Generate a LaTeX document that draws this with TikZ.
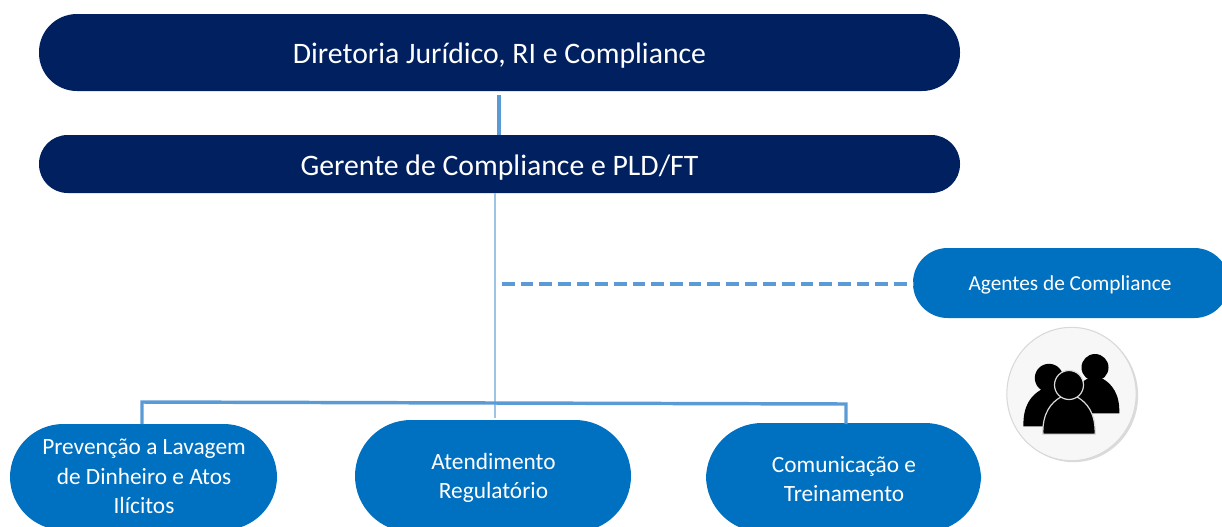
\documentclass[tikz,border=0pt]{standalone}
\usepackage{fontspec}
\setmainfont{Carlito}
\usetikzlibrary{calc,shapes.geometric}
\definecolor{navybar}{RGB}{0,32,96}
\definecolor{bluebox}{RGB}{0,112,192}
\definecolor{linkblue}{RGB}{91,155,213}
\definecolor{stemblue}{RGB}{157,195,230}
\tikzset{
  x=0.75pt,y=-0.75pt,
  pill/.style={text=white,align=center,inner sep=0pt},
  navyshape/.style={fill=navybar},
  blueshape/.style={fill=bluebox},
  link/.style={draw=linkblue,line width=2.6pt},
  stem/.style={draw=stemblue,line width=1.3pt},
  dashlink/.style={draw=linkblue,line width=2.8pt,dash pattern=on 9.5pt off 4.5pt},
  personshape/.style={fill=black},
  frontperson/.style={fill=black,draw=black!15,line width=0.9pt},
  pics/person/.style n args={2}{code={
    \path[#2] (-#1*1.8,#1*3.4) -- (#1*1.8,#1*3.4)
      .. controls (#1*1.85,#1*1.9) and (#1*1.2,#1*1.2) .. (#1*0.6,#1*0.85)
      -- (-#1*0.6,#1*0.85)
      .. controls (-#1*1.2,#1*1.2) and (-#1*1.85,#1*1.9) .. (-#1*1.8,#1*3.4) -- cycle;
    \path[#2] (0,0) circle[radius=#1*1pt*0.75];
  }}
}
\begin{document}
\begin{tikzpicture}
\useasboundingbox (0,0) rectangle (1222,526);
\clip (0,0) rectangle (1222,526);
% boxes
\path[navyshape,rounded corners=28.5pt] (39,14) rectangle (960,91);
\path[navyshape,rounded corners=21.5pt] (39,135) rectangle (960,193);
\path[blueshape,rounded corners=26pt] (913,248) rectangle (1229,318);
\path[blueshape,rounded corners=40pt] (10,424) rectangle (277,530);
\path[blueshape,rounded corners=42pt] (355,420) rectangle (631,532);
\path[blueshape,rounded corners=42pt] (706,423) rectangle (981,532);
% labels
\node[pill,font=\fontsize{22.3}{26}\selectfont] (dir) at (499.5,56) {Diretoria Jurídico, RI e Compliance};
\node[pill,font=\fontsize{22.3}{26}\selectfont] (ger) at (499.5,167.5) {Gerente de Compliance e PLD/FT};
\node[pill,font=\fontsize{16}{19}\selectfont] (age) at (1070,285) {Agentes de Compliance};
\node[pill,font=\fontsize{17.5}{22}\selectfont] (pre) at (144,476.5) {Prevenção a Lavagem\\de Dinheiro e Atos\\Ilícitos};
\node[pill,font=\fontsize{17.5}{22}\selectfont] (ate) at (493.5,478) {Atendimento\\Regulatório};
\node[pill,font=\fontsize{17.5}{22}\selectfont] (com) at (844,479) {Comunicação e\\Treinamento};
% anchors on box edges
\coordinate (dirb) at (499,95);
\coordinate (gert) at (499,135);
\coordinate (gerb) at (495,193);
\coordinate (stemend) at (495,418);
\coordinate (dashs) at (502,284);
\coordinate (agel) at (913,284);
\coordinate (prt) at (142,424);
\coordinate (prc) at (142,402);
\coordinate (cmc) at (846,404);
\coordinate (cmt) at (846,424);
% connectors
\draw[link] (dirb) -- (gert);
\draw[stem] (gerb) -- (stemend);
\draw[dashlink] (dashs) -- (agel);
\draw[link,line join=miter] (prt) -- (prc) -- (cmc) -- (cmt);
% icon
\node[ellipse,fill=black!14,minimum width=97pt,minimum height=100pt,inner sep=0pt] (iconshadow) at (1073.5,395.5) {};
\node[ellipse,draw=black!15,fill=black!3,line width=0.8pt,minimum width=97pt,minimum height=100pt,inner sep=0pt] (icon) at (1071.5,394) {};
\pic at (1095,367.5) {person={13.5}{personshape}};
\pic at (1049,378) {person={14.2}{personshape}};
\pic at (1069,385) {person={14.5}{frontperson}};
\end{tikzpicture}
\end{document}
